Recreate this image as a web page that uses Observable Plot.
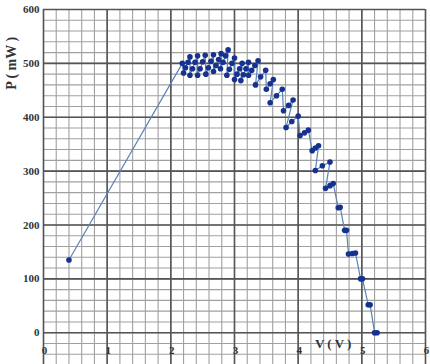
<!DOCTYPE html>
<html>
<head>
<meta charset="utf-8">
<script src="https://cdn.jsdelivr.net/npm/d3@7"></script>
<script src="https://cdn.jsdelivr.net/npm/@observablehq/plot@0.6"></script>
<style>
  html, body { margin: 0; padding: 0; background: #fff; }
  svg { display: block; }
</style>
</head>
<body>
<div id="chart"></div>
<script>
// Voltage (V) readings, in measurement order
const voltage = [
  0.40, 2.18,
  2.20, 2.23, 2.27, 2.30,
  2.30, 2.34, 2.38, 2.42,
  2.42, 2.46, 2.50, 2.54,
  2.55, 2.59, 2.63, 2.67,
  2.67, 2.71, 2.75, 2.79,
  2.78, 2.82, 2.86, 2.90,
  2.88, 2.92, 2.96, 3.00,
  3.00, 3.04, 3.08, 3.12,
  3.10, 3.14, 3.18, 3.22,
  3.22, 3.27, 3.32, 3.37,
  3.33, 3.41, 3.49,
  3.50, 3.56, 3.61,
  3.56, 3.66, 3.75,
  3.77, 3.85, 3.92,
  3.81, 3.90, 4.00,
  4.03, 4.10, 4.16,
  4.22, 4.27, 4.32,
  4.27, 4.38, 4.50,
  4.43, 4.50, 4.55,
  4.63, 4.66,
  4.73, 4.76,
  4.79, 4.85, 4.90,
  4.98, 5.01,
  5.10, 5.13,
  5.20, 5.24
];
// Power (mW) readings, same order
const power = [
  135, 500,
  482, 492, 502, 512,
  478, 490, 502, 514,
  478, 490, 503, 515,
  480, 492, 504, 516,
  485, 496, 507, 518,
  490, 502, 514, 525,
  478, 489, 500, 510,
  470, 480, 490, 500,
  468, 479, 490, 502,
  478, 487, 496, 505,
  460, 475, 487,
  452, 462, 470,
  427, 440, 452,
  412, 422, 432,
  381, 392, 402,
  366, 371, 376,
  338, 343, 347,
  301, 310, 317,
  268, 273, 277,
  232, 233,
  190, 190,
  146, 147, 148,
  100, 100,
  52, 52,
  0, 0
];
const xTickLabels = [0, 1, 2, 3, 4, 5, 6];
const yTickLabels = [0, 100, 200, 300, 400, 500, 600];
const xTitle = "V ( V )";
const yTitle = "P ( mW )";

const data = voltage.map((v, i) => ({V: v, P: power[i]}));
const minorX = d3.range(0, 6.0001, 0.2);
const minorY = d3.range(-40, 600.001, 20);

const font = "Liberation Serif, DejaVu Serif, serif";

const chart = Plot.plot({
  width: 430,
  height: 364,
  marginLeft: 43,
  marginRight: 5,
  marginTop: 9,
  marginBottom: 0,
  style: {fontFamily: font, background: "#fff"},
  x: {domain: [0, 6], axis: null},
  y: {domain: [-59, 600], axis: null},
  marks: [
    Plot.ruleX(minorX, {stroke: "#a0a0a0", strokeWidth: 1.1}),
    Plot.ruleY(minorY, {stroke: "#a0a0a0", strokeWidth: 1.1}),
    Plot.ruleX(xTickLabels, {stroke: "#555", strokeWidth: 1.6}),
    Plot.ruleY(yTickLabels, {stroke: "#555", strokeWidth: 1.6}),
    Plot.line(data, {x: "V", y: "P", stroke: "#5c82b8", strokeWidth: 1.2}),
    Plot.dot(data, {x: "V", y: "P", r: 2.8, fill: "#16318e", stroke: "none"}),
    Plot.text(yTickLabels, {x: 0, y: d => d, text: d => String(d), dx: -4, textAnchor: "end",
      fontSize: 11, fontWeight: "bold", fill: "#333"}),
    Plot.text(xTickLabels, {x: d => d, y: -33, text: d => String(d), dx: 1,
      fontSize: 11, fontWeight: "bold", fill: "#333"}),
    Plot.text([xTitle], {x: 4.55, y: -20, text: d => d, fontSize: 13, fontWeight: "bold", fill: "#333"}),
    Plot.text([yTitle], {x: -0.5, y: 500, text: d => d, rotate: -90, fontSize: 14, fontWeight: "bold", fill: "#333"})
  ]
});
document.getElementById("chart").appendChild(chart);
</script>
</body>
</html>
